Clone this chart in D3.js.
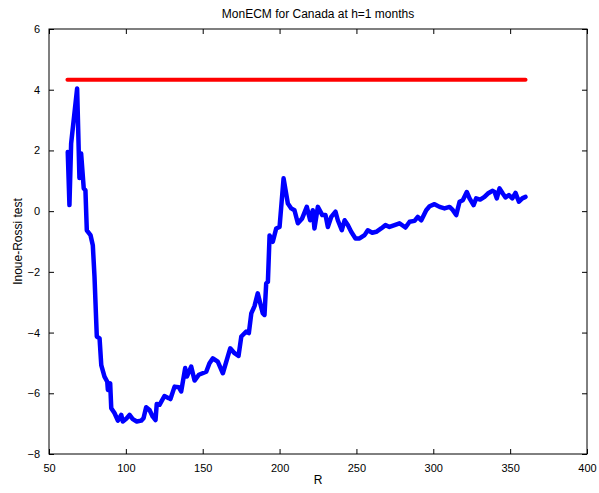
<!DOCTYPE html>
<html>
<head>
<meta charset="utf-8">
<script src="https://cdn.jsdelivr.net/npm/d3@7"></script>
<style>
  body { margin: 0; background: #fff; }
  svg text { font-family: "Liberation Sans", Arial, sans-serif; fill: #000; }
</style>
</head>
<body>
<div id="chart"></div>
<script>
// Inoue-Rossi test statistic against estimation window size R
var rValues = [62.2, 63.3, 64.4, 68.3, 69.8, 70.9, 72.6, 73.7, 74.6, 77.0,
    78.5, 79.6, 81.1, 82.9, 84.0, 86.1, 87.9, 88.3, 89.8, 90.5,
    92.6, 94.8, 97.0, 98.0, 100.6, 102.4, 104.5, 107.1, 110.0, 111.5,
    113.2, 115.4, 117.5, 119.3, 120.1, 121.9, 125.1, 127.9, 129.0, 131.7,
    134.4, 136.0, 138.6, 139.7, 142.5, 144.7, 147.5, 152.3, 154.4, 156.6,
    159.8, 163.1, 166.3, 167.9, 170.7, 173.3, 175.1, 178.3, 180.0, 181.6,
    183.7, 185.8, 189.1, 190.2, 191.3, 192.4, 193.5, 195.6, 197.8, 200.0,
    202.6, 205.4, 207.6, 209.7, 211.9, 214.7, 217.7, 219.9, 221.6, 222.7,
    224.9, 227.8, 229.9, 231.4, 233.6, 236.4, 237.9, 240.5, 242.3, 244.4,
    246.6, 249.4, 252.0, 255.3, 257.4, 260.3, 262.9, 266.1, 268.9, 271.5,
    274.8, 278.0, 281.9, 284.6, 287.8, 289.9, 292.2, 295.4, 297.6, 300.8,
    304.1, 307.3, 310.6, 312.3, 314.9, 317.1, 319.2, 321.8, 323.6, 326.2,
    327.9, 330.5, 333.3, 335.5, 338.4, 339.9, 341.3, 343.1, 345.2, 347.0,
    349.2, 351.4, 353.5, 355.7, 357.9, 360.0];
var testValues = [1.95, 0.20, 2.23, 4.04, 1.09, 1.90, 0.75, 0.69, -0.63, -0.79,
    -1.12, -2.16, -4.13, -4.19, -5.07, -5.45, -5.62, -5.89, -5.67, -6.49,
    -6.65, -6.90, -6.71, -6.93, -6.82, -6.71, -6.85, -6.93, -6.90, -6.82,
    -6.46, -6.55, -6.77, -6.88, -6.35, -6.38, -6.09, -6.16, -6.19, -5.78,
    -5.80, -5.94, -5.17, -5.45, -5.12, -5.58, -5.39, -5.29, -5.01, -4.85,
    -4.96, -5.34, -4.79, -4.52, -4.68, -4.77, -4.13, -3.97, -4.02, -3.37,
    -3.13, -2.71, -3.37, -3.42, -2.38, -2.33, -0.80, -1.01, -0.57, -0.52,
    1.08, 0.25, 0.09, 0.03, -0.40, -0.24, 0.14, -0.30, 0.03, -0.57,
    0.14, -0.13, -0.13, -0.52, -0.19, -0.02, -0.30, -0.63, -0.30, -0.46,
    -0.68, -0.90, -0.90, -0.79, -0.63, -0.71, -0.68, -0.57, -0.46, -0.52,
    -0.46, -0.40, -0.54, -0.35, -0.32, -0.19, -0.30, 0.03, 0.16, 0.23,
    0.14, 0.09, 0.14, 0.06, -0.13, 0.31, 0.36, 0.63, 0.42, 0.20,
    0.42, 0.38, 0.47, 0.58, 0.67, 0.63, 0.42, 0.75, 0.58, 0.45,
    0.53, 0.42, 0.60, 0.31, 0.42, 0.47];
// critical value line
var criticalValue = 4.33;
var criticalRange = [62, 360];

var xTicks = [50, 100, 150, 200, 250, 300, 350, 400];
var yTicks = [-8, -6, -4, -2, 0, 2, 4, 6];

var totalW = 599, totalH = 493;
var margin = { top: 29, right: 12, bottom: 39, left: 49 };
var width = totalW - margin.left - margin.right;
var height = totalH - margin.top - margin.bottom;

var svg = d3.select("#chart").append("svg")
    .attr("width", totalW)
    .attr("height", totalH);

var g = svg.append("g")
    .attr("transform", "translate(" + margin.left + "," + margin.top + ")");

var x = d3.scaleLinear().domain([50, 400]).range([0, width]);
var y = d3.scaleLinear().domain([-8, 6]).range([height, 0]);

// --- Lines (drawn first so the axes box sits on top) ---
var series = rValues.map(function(r, i) { return { r: r, v: testValues[i] }; });

var lineGen = d3.line()
    .x(function(d) { return x(d.r); })
    .y(function(d) { return y(d.v); });

g.append("path")
    .datum(criticalRange.map(function(r) { return { r: r, v: criticalValue }; }))
    .attr("fill", "none")
    .attr("stroke", "#ff0000")
    .attr("stroke-width", 4)
    .attr("stroke-linecap", "round")
    .attr("d", lineGen);

g.append("path")
    .datum(series)
    .attr("fill", "none")
    .attr("stroke", "#0000ff")
    .attr("stroke-width", 4.5)
    .attr("stroke-linejoin", "round")
    .attr("stroke-linecap", "round")
    .attr("d", lineGen);

// --- Axes, MATLAB style: ticks pointing inward on all four sides ---
function styleAxis(sel) {
    sel.select(".domain").remove();
    sel.selectAll("line").attr("stroke", "#000").attr("stroke-width", 1);
    sel.selectAll("text").style("font-size", "11px");
}

g.append("g")
    .attr("transform", "translate(0," + height + ")")
    .call(d3.axisBottom(x).tickValues(xTicks).tickSize(-5).tickPadding(10))
    .call(styleAxis);

g.append("g")
    .call(d3.axisTop(x).tickValues(xTicks).tickSize(-5).tickFormat(""))
    .call(styleAxis);

g.append("g")
    .call(d3.axisLeft(y).tickValues(yTicks).tickSize(-5).tickPadding(9))
    .call(styleAxis);

g.append("g")
    .attr("transform", "translate(" + width + ",0)")
    .call(d3.axisRight(y).tickValues(yTicks).tickSize(-5).tickFormat(""))
    .call(styleAxis);

g.append("rect")
    .attr("width", width)
    .attr("height", height)
    .attr("fill", "none")
    .attr("stroke", "#000")
    .attr("stroke-width", 1);

// --- Labels ---
svg.append("text")
    .attr("x", margin.left + width / 2)
    .attr("y", 18)
    .attr("text-anchor", "middle")
    .style("font-size", "12px")
    .text("MonECM for Canada at h=1 months");

svg.append("text")
    .attr("x", margin.left + width / 2)
    .attr("y", 484)
    .attr("text-anchor", "middle")
    .style("font-size", "12px")
    .text("R");

svg.append("text")
    .attr("transform", "rotate(-90)")
    .attr("x", -(margin.top + height / 2))
    .attr("y", 22)
    .attr("text-anchor", "middle")
    .style("font-size", "12px")
    .text("Inoue-Rossi test");
</script>
</body>
</html>
